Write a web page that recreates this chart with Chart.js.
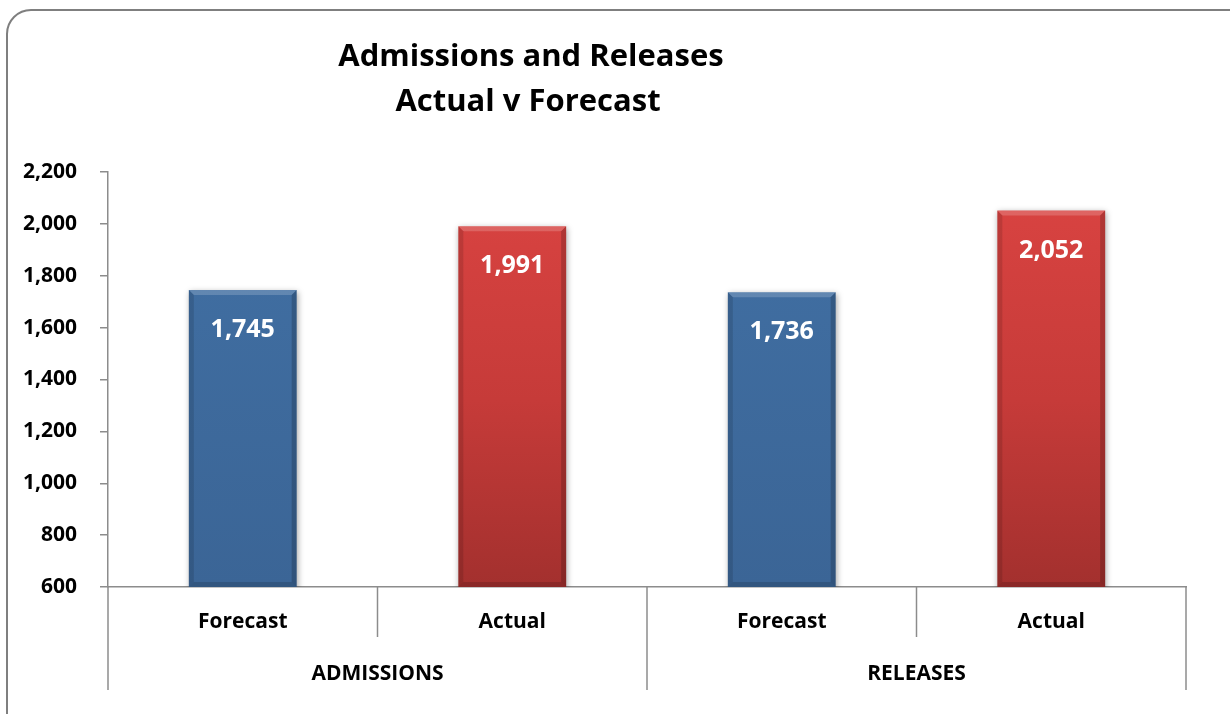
<!DOCTYPE html>
<html>
<head>
<meta charset="utf-8">
<script src="https://cdn.jsdelivr.net/npm/chart.js@4"></script>
<style>
  html, body { margin: 0; padding: 0; background: #fff; }
  #wrap { width: 1230px; height: 714px; }
</style>
</head>
<body>
<div id="wrap"><canvas id="grafica" width="1230" height="714"></canvas></div>
<script>
// datos del grafico
const categorias = ["Forecast", "Actual", "Forecast", "Actual"];
const grupos = ["ADMISSIONS", "RELEASES"];
const valores = [1745, 1991, 1736, 2052];
const ticksY = [600, 800, 1000, 1200, 1400, 1600, 1800, 2000, 2200];
const titulo = ["Admissions and Releases", "Actual v Forecast"];

const fuente = "'Open Sans', sans-serif";
const gris = "#8c8c8c";

function colorBarra(ctx) {
  const area = ctx.chart.chartArea;
  const actual = categorias[ctx.dataIndex] === "Actual";
  if (!area) return actual ? "#c93b39" : "#3e6798";
  const g = ctx.chart.ctx.createLinearGradient(0, area.top, 0, area.bottom);
  if (actual) {
    g.addColorStop(0, "#db4442");
    g.addColorStop(0.55, "#c63b39");
    g.addColorStop(1, "#a3302e");
  } else {
    g.addColorStop(0, "#4170a4");
    g.addColorStop(1, "#3b6596");
  }
  return g;
}

// marco redondeado, titulo y sombra
const decoracion = {
  id: "decoracion",
  beforeDraw(chart) {
    const c = chart.ctx;
    c.save();
    c.strokeStyle = "#7f7f7f";
    c.lineWidth = 2;
    c.beginPath();
    c.roundRect(7, 10, 1260, 740, 24);
    c.stroke();
    c.fillStyle = "#000";
    c.font = "bold 31px " + fuente;
    c.textAlign = "center";
    c.textBaseline = "middle";
    c.fillText(titulo[0], 531, 57);
    c.fillText(titulo[1], 528, 102);
    c.restore();
  },
  beforeDatasetsDraw(chart) {
    const c = chart.ctx;
    c.save();
    c.shadowColor = "rgba(0,0,0,0.35)";
    c.shadowBlur = 6;
    c.shadowOffsetX = 1;
    c.shadowOffsetY = 2;
  },
  afterDatasetsDraw(chart) {
    const c = chart.ctx;
    c.restore();
    const area = chart.chartArea;
    const meta = chart.getDatasetMeta(0);
    meta.data.forEach((bar, i) => {
      const izq = bar.x - bar.width / 2;
      const der = bar.x + bar.width / 2;
      const arriba = bar.y;
      const abajo = Math.min(bar.base, area.bottom);
      const b = 5;
      c.save();
      // bisel
      c.fillStyle = "rgba(255,255,255,0.18)";
      c.beginPath();
      c.moveTo(izq, arriba); c.lineTo(der, arriba); c.lineTo(der - b, arriba + b); c.lineTo(izq + b, arriba + b);
      c.fill();
      c.fillStyle = "rgba(0,0,0,0.12)";
      c.beginPath();
      c.moveTo(izq, arriba); c.lineTo(izq + b, arriba + b); c.lineTo(izq + b, abajo - b); c.lineTo(izq, abajo);
      c.fill();
      c.fillStyle = "rgba(0,0,0,0.18)";
      c.beginPath();
      c.moveTo(der, arriba); c.lineTo(der - b, arriba + b); c.lineTo(der - b, abajo - b); c.lineTo(der, abajo);
      c.fill();
      c.fillStyle = "rgba(0,0,0,0.15)";
      c.beginPath();
      c.moveTo(izq, abajo); c.lineTo(izq + b, abajo - b); c.lineTo(der - b, abajo - b); c.lineTo(der, abajo);
      c.fill();
      // etiqueta de valor
      c.fillStyle = "#fff";
      c.font = "bold 25px " + fuente;
      c.textAlign = "center";
      c.textBaseline = "middle";
      c.fillText(valores[i].toLocaleString("en-US"), bar.x, arriba + 40);
      c.restore();
    });
  },
  afterDraw(chart) {
    // separadores y grupos del eje x
    const x = chart.scales.x;
    const area = chart.chartArea;
    const c = chart.ctx;
    const n = categorias.length;
    const paso = (x.getPixelForValue(1) - x.getPixelForValue(0));
    c.save();
    c.strokeStyle = gris;
    c.lineWidth = 1.5;
    for (let i = 0; i <= n; i++) {
      const px = x.getPixelForValue(i) - paso / 2;
      const largo = (i % 2 === 0) ? 103 : 50;
      c.beginPath();
      c.moveTo(px, area.bottom);
      c.lineTo(px, area.bottom + largo);
      c.stroke();
    }
    c.fillStyle = "#000";
    c.font = "bold 21px " + fuente;
    c.textAlign = "center";
    c.textBaseline = "middle";
    grupos.forEach((g, j) => {
      const cx = (x.getPixelForValue(j * 2) + x.getPixelForValue(j * 2 + 1)) / 2;
      c.fillText(g, cx, area.bottom + 87);
    });
    c.restore();
  }
};

const grafico = new Chart(document.getElementById("grafica"), {
  type: "bar",
  data: {
    labels: categorias,
    datasets: [{
      data: valores,
      backgroundColor: colorBarra,
      borderWidth: 0,
      barPercentage: 0.4,
      categoryPercentage: 1.0
    }]
  },
  options: {
    responsive: false,
    animation: false,
    layout: { padding: { top: 172, right: 44, bottom: 24, left: 0 } },
    plugins: { legend: { display: false }, tooltip: { enabled: false }, title: { display: false } },
    scales: {
      x: {
        grid: { display: false, drawTicks: false },
        border: { display: true, color: gris, width: 1.5 },
        ticks: { color: "#000", font: { family: fuente, size: 21, weight: "bold" }, padding: 22 },
        afterFit(s) { s.height = 103; }
      },
      y: {
        min: 600,
        max: 2200,
        afterBuildTicks(s) { s.ticks = ticksY.map(v => ({ value: v })); },
        grid: { drawOnChartArea: false, drawTicks: true, tickLength: 8, color: gris, lineWidth: 1.5 },
        border: { display: true, color: gris, width: 1.5 },
        ticks: {
          color: "#000",
          font: { family: fuente, size: 21, weight: "bold" },
          padding: 23,
          callback: v => v.toLocaleString("en-US")
        },
        afterFit(s) { s.width = 108; }
      }
    }
  },
  plugins: [decoracion]
});
</script>
</body>
</html>
